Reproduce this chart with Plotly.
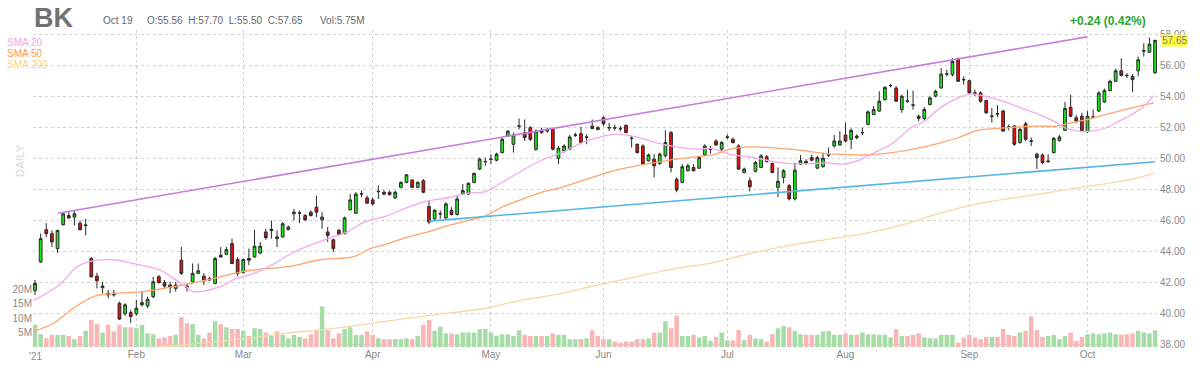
import plotly.graph_objects as go

# ---------------- data ----------------
opens = [41.50,43.36,45.44,45.18,44.22,45.76,46.35,46.25,45.86,45.70,
         43.58,42.44,41.70,41.33,41.33,40.69,40.01,40.09,40.01,40.59,
         40.52,41.12,42.40,42.02,41.87,41.65,43.47,41.80,42.08,42.62,
         42.44,42.29,41.97,43.79,43.85,44.54,43.51,42.66,43.58,43.68,
         43.94,45.29,45.39,44.97,44.97,45.44,46.46,46.50,46.35,46.57,
         46.89,46.08,45.29,44.79,45.39,45.18,46.72,46.50,47.74,47.49,
         47.36,47.89,47.85,47.85,47.49,48.17,48.49,48.64,48.17,48.60,
         46.93,46.14,46.45,46.20,46.68,46.42,47.74,47.74,48.49,49.35,
         49.82,49.97,49.92,50.41,51.48,50.95,52.11,51.70,52.02,50.63,
         51.85,51.80,51.91,50.05,50.52,50.63,51.53,51.63,51.40,52.12,
         52.02,52.66,52.00,52.02,51.97,52.17,51.35,50.95,50.84,49.88,
         49.99,49.71,50.20,51.70,48.70,48.49,49.24,49.45,49.41,50.26,
         50.61,51.16,50.63,51.40,51.27,50.84,49.13,48.60,49.20,49.45,
         50.14,49.71,48.17,48.81,48.28,47.42,49.67,49.84,50.09,49.41,
         49.50,50.25,50.84,50.91,51.55,51.27,51.48,51.69,52.23,52.87,
         53.09,53.83,54.72,54.58,53.19,53.75,53.49,52.76,52.62,53.51,
         54.05,54.58,55.47,55.44,56.46,55.13,55.05,54.27,54.26,53.77,
         52.75,52.92,53.09,52.07,52.12,51.06,52.27,51.17,50.31,50.26,
         49.82,50.41,51.20,51.85,53.34,52.66,52.76,51.76,52.69,53.09,
         53.68,54.41,55.01,55.69,55.40,55.33,55.69,56.95,56.89,55.56]
highs = [42.19,45.18,45.86,45.39,45.44,46.57,46.57,46.68,46.03,46.14,
         43.68,42.66,42.08,41.55,41.55,40.80,40.69,40.26,40.91,41.44,
         41.12,42.40,42.51,42.19,42.08,42.08,44.32,41.97,43.26,43.26,
         42.62,42.40,43.68,44.32,44.32,44.86,43.68,43.58,44.22,45.44,
         44.65,45.50,46.03,45.39,45.93,45.71,46.78,46.68,46.46,46.68,
         47.64,46.57,45.61,44.86,45.50,46.29,47.74,47.85,47.96,47.64,
         47.53,48.28,48.00,47.96,47.96,48.56,49.03,48.70,48.56,48.70,
         47.32,46.78,46.68,47.21,46.89,47.64,48.38,48.49,49.13,50.09,
         50.09,50.31,50.41,51.38,51.85,51.70,52.62,52.55,52.12,51.91,
         52.02,52.02,52.02,50.84,50.95,51.55,51.70,52.06,51.59,52.55,
         52.12,52.76,52.34,52.23,52.12,52.23,51.48,50.99,50.95,50.35,
         50.31,50.41,51.85,51.80,48.81,49.67,49.71,49.67,50.20,50.95,
         50.84,51.27,51.16,51.59,51.38,50.95,49.45,48.81,49.88,50.31,
         50.26,49.77,49.45,49.35,48.38,49.77,50.26,49.99,50.26,50.20,
         50.41,50.74,51.55,51.80,52.34,51.97,51.59,52.02,53.13,53.41,
         54.37,54.69,54.84,54.69,54.15,54.47,54.41,52.87,53.34,54.05,
         54.47,55.86,55.76,56.50,56.55,55.33,55.12,54.47,54.37,53.83,
         53.30,53.47,53.19,52.23,52.19,52.02,52.40,51.38,50.41,50.35,
         50.31,51.42,51.55,53.68,54.15,52.83,52.98,53.09,53.19,54.37,
         54.54,55.12,55.82,56.50,55.54,55.48,56.61,57.47,57.83,57.70]
lows = [41.23,43.30,44.97,44.32,43.94,45.71,46.14,45.71,45.39,45.07,
        42.36,41.65,41.33,41.01,41.12,39.62,39.88,39.41,39.88,40.48,
        40.37,41.01,41.97,41.65,41.33,41.44,42.51,41.44,41.97,42.57,
        41.87,42.15,41.93,43.64,43.79,43.21,42.44,42.62,43.15,43.64,
        43.85,44.79,44.86,44.32,44.92,45.39,46.03,45.86,45.99,46.29,
        46.25,45.50,44.65,44.00,45.07,45.14,46.68,46.46,47.53,47.10,
        47.00,47.42,47.64,47.64,47.42,48.13,48.43,48.13,48.13,47.79,
        45.78,46.08,46.14,46.14,46.35,46.35,47.70,47.70,48.43,49.28,
        49.56,49.67,49.84,50.35,51.42,50.41,51.91,51.16,51.16,50.52,
        51.63,51.70,50.56,49.67,50.41,50.56,51.42,50.95,50.95,51.91,
        51.85,52.12,51.80,51.85,51.80,51.68,50.74,50.35,49.62,49.84,
        48.81,49.62,50.09,49.13,47.85,48.43,49.20,49.20,49.35,50.20,
        50.35,50.84,50.41,51.27,50.99,49.28,49.07,47.91,49.13,49.41,
        49.77,49.07,47.53,48.43,47.32,47.32,49.62,49.62,49.84,49.35,
        49.45,50.14,50.74,50.84,51.06,50.63,51.27,51.55,52.19,52.83,
        53.04,53.77,54.62,53.68,52.98,53.62,53.19,52.44,52.49,53.47,
        53.98,54.54,55.33,55.33,54.97,54.79,54.20,54.05,53.62,52.91,
        52.34,52.70,51.76,51.85,50.84,50.99,51.16,50.84,49.35,49.67,
        49.77,50.35,51.12,51.80,52.70,52.34,51.76,51.70,52.62,53.04,
        53.62,54.37,54.97,55.33,55.22,54.32,55.33,56.61,56.85,55.50]
closes = [41.97,44.86,45.18,44.65,45.39,46.46,46.20,46.46,45.44,45.74,
          42.40,42.15,41.80,41.23,41.23,39.67,40.59,39.84,40.37,40.73,
          40.95,42.08,42.02,41.80,41.72,41.87,42.62,41.72,42.62,42.79,
          42.15,42.19,43.58,43.68,44.15,43.26,42.62,43.51,43.47,44.37,
          44.37,44.92,45.46,44.86,45.82,45.61,46.57,46.52,46.08,46.35,
          46.57,46.25,45.07,44.22,45.14,46.20,47.36,47.74,47.76,47.15,
          47.10,47.91,47.74,47.70,47.85,48.49,48.98,48.17,48.49,47.85,
          45.93,46.68,46.47,47.10,46.42,47.42,47.96,48.43,49.07,49.99,
          49.84,49.99,50.31,51.27,51.80,51.55,52.13,51.38,51.27,51.80,
          51.70,51.91,50.63,50.70,50.84,51.42,51.55,51.06,51.42,51.97,
          51.91,52.27,52.02,52.00,51.95,51.70,51.33,50.41,49.67,50.26,
          49.56,50.31,51.06,49.45,48.00,49.50,49.56,49.24,50.09,50.84,
          50.63,50.91,51.06,51.42,51.06,49.35,49.35,48.21,49.77,50.20,
          49.84,49.13,48.56,49.24,47.42,49.28,49.88,49.71,49.92,50.09,
          50.05,50.27,51.16,51.16,51.16,51.85,51.38,51.71,53.04,53.19,
          53.73,54.62,54.74,53.73,54.05,53.73,53.47,52.62,53.19,53.94,
          54.37,55.48,55.49,56.29,55.01,55.11,54.26,54.25,53.73,52.98,
          52.77,52.90,51.80,52.05,50.95,51.91,51.27,51.15,50.09,49.77,
          49.86,51.33,51.42,53.26,52.76,52.44,51.80,52.76,52.71,54.26,
          54.41,55.01,55.69,55.39,55.38,55.12,56.40,56.99,57.41,57.65]
volumes_m = [7.7,4.4,3.0,4.2,4.2,4.2,3.8,2.7,3.8,5.6,
             9.3,7.9,5.0,7.7,5.4,7.7,6.8,6.8,6.5,7.7,
             4.7,4.4,3.0,3.3,3.8,4.2,10.3,8.2,7.9,4.2,
             3.0,5.0,8.9,7.9,6.8,6.2,6.2,5.6,3.8,6.5,
             6.2,5.0,3.8,5.4,4.2,3.0,4.2,3.5,3.0,4.4,
             5.8,14.0,5.8,3.0,4.7,6.2,6.8,4.2,4.2,5.4,
             4.2,3.0,2.7,2.7,2.7,2.7,3.0,2.7,3.8,7.7,
             9.3,5.6,7.0,4.7,4.7,4.4,5.0,5.0,5.0,6.2,
             6.2,5.0,3.8,4.4,4.4,3.8,5.8,4.2,3.8,3.8,
             3.8,3.8,4.7,4.2,4.2,2.7,2.7,2.7,3.0,5.8,
             3.8,2.7,2.7,1.9,1.5,1.9,1.9,2.7,2.7,3.0,
             5.0,5.0,8.9,6.5,10.8,3.8,3.8,4.2,3.3,3.8,
             2.1,3.5,5.0,2.3,2.3,5.8,2.3,4.2,3.0,2.7,
             1.9,4.4,6.5,7.3,6.8,5.6,4.4,4.2,4.2,4.2,
             5.4,5.6,4.2,4.2,4.7,4.2,4.2,5.0,4.4,4.4,
             4.2,4.2,3.3,6.2,3.8,3.8,4.2,4.7,3.3,3.0,
             3.0,4.2,4.2,4.2,1.5,3.3,4.2,3.3,2.7,3.5,
             3.5,3.5,6.2,4.2,3.8,5.0,5.6,10.5,5.8,3.5,
             3.8,4.2,2.7,3.8,5.0,2.1,3.5,4.4,4.7,4.4,
             4.7,5.0,4.4,4.2,4.4,4.7,5.6,5.0,4.7,5.75]

month_tick_idx = [18, 37, 60, 81, 101, 123, 144, 166, 187]
month_tick_txt = ["Feb", "Mar", "Apr", "May", "Jun", "Jul", "Aug", "Sep", "Oct"]
year_label = "'21"

price_ticks = [38, 40, 42, 44, 46, 48, 50, 52, 54, 56, 58]
volume_ticks_m = [5, 10, 15, 20]
volume_tick_txt = ["5M", "10M", "15M", "20M"]

sma20_idx = [-0.3, 4.4, 7.4, 9.8, 13.9, 17.5, 22.2, 24.6, 27, 28.1, 30.5, 32.9, 35.8, 38.8,
             42.5, 46, 49.6, 52.5, 55.5, 58.5, 62.7, 66.3, 69.8, 73.4, 76.9, 80, 83, 86.5,
             90, 93.6, 97.2, 100.2, 103.2, 106.8, 110.3, 113.9, 117.4, 120.3, 123.5, 127,
             130.6, 134.1, 137.7, 140.5, 143.7, 146.1, 148.5, 152.1, 155.6, 158, 160.8, 164,
             166.4, 168.7, 172.3, 175.9, 178.2, 181, 183.1, 185.4, 187.8, 190.2, 192.6,
             194.9, 197.3, 198.8]
sma20_val = [40.86, 41.9, 43.04, 43.4, 43.5, 43.25, 42.83, 42.3, 41.72, 41.44, 41.5, 41.76, 42.3, 42.6,
             43.25, 44.0, 44.54, 44.92, 45.3, 45.93, 46.35, 46.9, 47.3, 47.5, 47.8, 47.9, 48.5, 49.24,
             49.92, 50.41, 51.05, 51.4, 51.6, 51.42, 51.05, 50.78, 50.63, 50.67, 50.3, 50.14,
             49.88, 49.7, 49.7, 49.75, 49.67, 49.88, 50.3, 50.95, 52.0, 52.44, 53.28, 53.94,
             54.2, 54.05, 53.68, 53.19, 52.9, 52.44, 52.0, 51.8, 51.8, 52.0, 52.44,
             52.87, 53.5, 54.1]
sma50_idx = [-0.3, 3.3, 6.8, 10.4, 13.3, 17.5, 19.2, 24.6, 30.5, 36.4, 39.2, 44.8, 50.7, 56.6,
             59.5, 62.7, 66.3, 69.8, 73.4, 76.9, 80.1, 83, 86.5, 90, 93.6, 97.2, 100.4, 103.2,
             106.8, 110.3, 113.9, 117.4, 120.6, 123.5, 127, 130.6, 134.1, 137.7, 140.5, 143.7,
             147.3, 150.8, 154.4, 158, 161, 164, 167.5, 171.1, 174.6, 178.2, 181.4, 184.3,
             187.8, 191.4, 194.9, 198.8]
sma50_val = [38.87, 39.4, 40.37, 41.12, 41.3, 41.4, 41.44, 41.76, 42.2, 42.7, 42.85, 43.05, 43.5, 43.7,
             44.2, 44.54, 44.97, 45.29, 45.71, 46.03, 46.35, 46.9, 47.4, 47.85, 48.17, 48.6, 48.98, 49.28,
             49.56, 49.77, 49.99, 50.14, 50.28, 50.63, 50.78, 50.73, 50.63, 50.48, 50.35, 50.3,
             50.26, 50.35, 50.52, 50.78, 51.05, 51.37, 51.85, 51.97, 52.06, 52.12, 52.12, 52.34,
             52.62, 52.98, 53.3, 53.62]
sma200_idx = [18, 26, 39.5, 44.8, 50.7, 56.6, 59.9, 66.3, 73.4, 80, 86.5, 93.6, 100, 106.8,
              113.9, 120.3, 127, 134.1, 140.5, 147.3, 154.4, 161, 167.5, 174.6, 181, 187.8,
              194.9, 198.8]
sma200_val = [37.75, 38.0, 38.5, 38.77, 38.98, 39.24, 39.4, 39.72, 40.05, 40.37, 40.9, 41.33, 41.87, 42.4,
              42.94, 43.3, 43.9, 44.43, 44.8, 45.18, 45.78, 46.53, 47.1, 47.53, 47.88, 48.28,
              48.7, 49.07]

upper_trend_idx = [4.1, 186.9]
upper_trend_val = [46.5, 57.88]
lower_trend_idx = [70, 199]
lower_trend_val = [45.99, 49.82]

header_ticker = "BK"
header_date = "Oct 19"
header_ohlc = "O:55.56  H:57.70  L:55.50  C:57.65"
header_vol = "Vol:5.75M"
change_text = "+0.24 (0.42%)"
last_price = 57.65

# ---------------- figure ----------------
W, H = 1200, 375
ML, MT = 33, 30                  # plot-area top-left corner (page pixels)
PW, PH = 1126, 317               # plot-area size
MR, MB = W - ML - PW, H - MT - PH
FONT = "Arial, Liberation Sans, sans-serif"


def pxx(x):
    return (x - ML) / PW


def pxy(y):
    return (MT + PH - y) / PH


idx = list(range(len(opens)))
vol_colors = ["#a6dca6" if c >= o else "#f8b6b6" for o, c in zip(opens, closes)]

fig = go.Figure()

fig.add_trace(go.Bar(x=idx, y=volumes_m, marker=dict(color=vol_colors, line=dict(width=0)),
                     width=0.8, yaxis="y", hoverinfo="skip", showlegend=False))

fig.add_trace(go.Scatter(x=sma200_idx, y=sma200_val, mode="lines", yaxis="y2",
                         line=dict(color="#f7d9a6", width=1.3, shape="spline"), showlegend=False))
fig.add_trace(go.Scatter(x=sma50_idx, y=sma50_val, mode="lines", yaxis="y2",
                         line=dict(color="#ffa46a", width=1.3, shape="spline"), showlegend=False))
fig.add_trace(go.Scatter(x=sma20_idx, y=sma20_val, mode="lines", yaxis="y2",
                         line=dict(color="#f3a9ec", width=1.3, shape="spline"), showlegend=False))
fig.add_trace(go.Scatter(x=upper_trend_idx, y=upper_trend_val, mode="lines", yaxis="y2",
                         line=dict(color="#c77ddc", width=1.6), showlegend=False))
fig.add_trace(go.Scatter(x=lower_trend_idx, y=lower_trend_val, mode="lines", yaxis="y2",
                         line=dict(color="#54b4e4", width=1.6), showlegend=False))

fig.add_trace(go.Candlestick(
    x=idx, open=opens, high=highs, low=lows, close=closes, yaxis="y2",
    increasing=dict(line=dict(color="#2a2a2a", width=1), fillcolor="#14ec14"),
    decreasing=dict(line=dict(color="#2a2a2a", width=1), fillcolor="#e80e0e"),
    whiskerwidth=0, showlegend=False))

grid = "#d2d2d2"
fig.update_layout(
    template="none",
    width=W, height=H, margin=dict(l=ML, r=MR, t=MT, b=MB, autoexpand=False),
    paper_bgcolor="white", plot_bgcolor="white",
    font=dict(family=FONT, size=10, color="#8a8a8a"),
    showlegend=False,
    xaxis=dict(range=[-0.36, 199.7], tickvals=month_tick_idx, ticktext=month_tick_txt,
               showgrid=True, gridcolor=grid, griddash="dot", gridwidth=1, automargin=False,
               zeroline=False, showline=False, ticks="", rangeslider=dict(visible=False),
               tickfont=dict(size=10, color="#8a8a8a")),
    yaxis=dict(range=[0, PH / 14.5 * 5], side="left", tickvals=volume_ticks_m,
               ticktext=volume_tick_txt, showgrid=False, zeroline=False, showline=False,
               ticks="", automargin=False, tickfont=dict(size=10, color="#8a8a8a")),
    yaxis2=dict(range=[37.87, 37.87 + PH / 15.5], overlaying="y", side="right",
                tickvals=price_ticks, ticktext=[f"{v:.2f}" for v in price_ticks],
                showgrid=True, gridcolor=grid, griddash="dot", gridwidth=1, automargin=False,
                zeroline=False, showline=False, ticks="",
                tickfont=dict(size=10, color="#8a8a8a")),
)

ann = []
ann.append(dict(x=pxx(32), y=pxy(18), xref="paper", yref="paper", xanchor="left", yanchor="middle",
                text=f"<b>{header_ticker}</b>", showarrow=False,
                font=dict(size=27, color="#727272", family=FONT)))
ann.append(dict(x=pxx(101), y=pxy(21), xref="paper", yref="paper", xanchor="left", yanchor="middle",
                text=header_date, showarrow=False, font=dict(size=10, color="#666666")))
ann.append(dict(x=pxx(145), y=pxy(21), xref="paper", yref="paper", xanchor="left", yanchor="middle",
                text=header_ohlc, showarrow=False, font=dict(size=10, color="#666666")))
ann.append(dict(x=pxx(318), y=pxy(21), xref="paper", yref="paper", xanchor="left", yanchor="middle",
                text=header_vol, showarrow=False, font=dict(size=10, color="#666666")))
ann.append(dict(x=pxx(1148), y=pxy(21), xref="paper", yref="paper", xanchor="right", yanchor="middle",
                text=f"<b>{change_text}</b>", showarrow=False, font=dict(size=12, color="#2ea82e")))
ann.append(dict(x=pxx(1161), y=last_price, xref="paper", yref="y2", xanchor="left", yanchor="middle",
                text=f"{last_price:.2f}", showarrow=False, bgcolor="#ffff3c", borderpad=0,
                font=dict(size=10, color="#777777")))
ann.append(dict(x=pxx(20), y=pxy(161), xref="paper", yref="paper", xanchor="center", yanchor="middle",
                text="<b>DAILY</b>", textangle=-90, showarrow=False,
                font=dict(size=11, color="#e2e2e2")))
for txt, col, yy in [("SMA 20", "#f3a2ea", 43), ("SMA 50", "#ff9a55", 54), ("SMA 200", "#f3d28e", 64)]:
    ann.append(dict(x=pxx(5), y=pxy(yy), xref="paper", yref="paper", xanchor="left", yanchor="middle",
                    text=txt, showarrow=False, font=dict(size=10, color=col)))
ann.append(dict(x=0, y=pxy(356), xref="x", yref="paper", xanchor="center", yanchor="middle",
                text=year_label, showarrow=False, font=dict(size=10, color="#8a8a8a")))
fig.update_layout(annotations=ann)

# remove the browser's default 8px page margin so the figure sits at the window origin
fig.write_html("out.html", config={"displayModeBar": False},
               post_script="document.body.style.margin='0';")
